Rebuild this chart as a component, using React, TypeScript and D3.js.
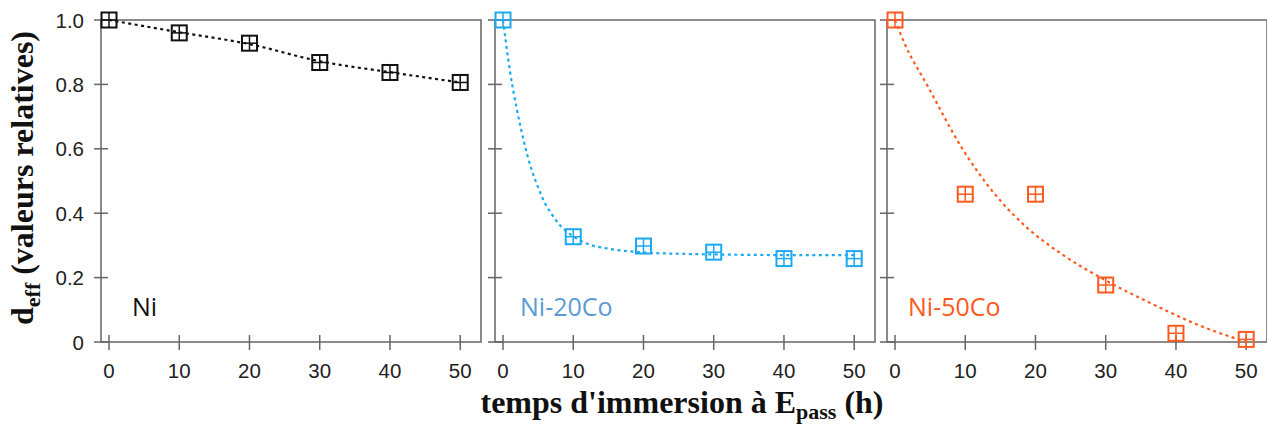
import React from "react";
import * as d3 from "d3";

const times = [0, 10, 20, 30, 40, 50];
const niValues = [1.0, 0.96, 0.928, 0.868, 0.837, 0.806];
const ni20Values = [1.0, 0.327, 0.298, 0.279, 0.259, 0.259];
const ni50Values = [1.0, 0.459, 0.459, 0.177, 0.027, 0.008];

// dotted fit curves
const niFitT = [0, 10, 20, 30, 40, 50];
const niFitV = [1.0, 0.962, 0.925, 0.872, 0.838, 0.806];
const ni20FitT = [0, 1, 2, 3, 4, 5, 6, 7, 8, 9, 10, 12, 15, 20, 25, 30, 40, 50];
const ni20FitV = [1.0, 0.84, 0.72, 0.62, 0.54, 0.48, 0.43, 0.395, 0.365, 0.345, 0.328, 0.305, 0.29, 0.278, 0.274, 0.272, 0.27, 0.27];
const ni50FitT = [0, 1.3, 4.7, 9.4, 14.1, 18.9, 23.6, 30.1, 37.9, 42.6, 50];
const ni50FitV = [1.0, 0.93, 0.793, 0.607, 0.462, 0.353, 0.275, 0.19, 0.105, 0.058, 0.0];

const xTicks = [0, 10, 20, 30, 40, 50];
const yTicks = [0, 0.2, 0.4, 0.6, 0.8, 1.0];
const yTickLabels = ["0", "0.2", "0.4", "0.6", "0.8", "1.0"];

const panelNames = ["Ni", "Ni-20Co", "Ni-50Co"];
const markerColors = ["#111111", "#1BA9F2", "#FF5A1E"];
const labelColors = ["#111111", "#5B9BD5", "#FF5A1E"];

const panels = [
  { name: panelNames[0], values: niValues, fitT: niFitT, fitV: niFitV, left: 101, labelDx: 31, marker: markerColors[0], label: labelColors[0] },
  { name: panelNames[1], values: ni20Values, fitT: ni20FitT, fitV: ni20FitV, left: 495, labelDx: 25, marker: markerColors[1], label: labelColors[1] },
  { name: panelNames[2], values: ni50Values, fitT: ni50FitT, fitV: ni50FitV, left: 887, labelDx: 21, marker: markerColors[2], label: labelColors[2] },
];

const W = 1267;
const H = 427;
const PW = 380;
const TOP = 20;
const BOTTOM = 342;
const frameColor = "#666666";

export default function App() {
  const y = d3.scaleLinear().domain([0, 1]).range([BOTTOM, TOP]);
  const ms = 7.5;
  return (
    <svg width={W} height={H} style={{ position: "absolute", left: 0, top: 0, background: "#fff" }}>
      {panels.map((p, pi) => {
        const x = d3.scaleLinear().domain([-1.14, 52.96]).range([p.left, p.left + PW]);
        const line = d3
          .line<number>()
          .x((_, i) => x(p.fitT[i]))
          .y((v) => y(v))
          .curve(d3.curveMonotoneX);
        return (
          <g key={pi}>
            <rect x={p.left} y={TOP} width={PW} height={BOTTOM - TOP} fill="#fff" stroke={frameColor} strokeWidth={1.5} />
            {yTicks.map((t, i) => (
              <line key={"yt" + i} x1={p.left - 7} x2={p.left + 7} y1={y(t)} y2={y(t)} stroke={frameColor} strokeWidth={1.5} />
            ))}
            {xTicks.map((t, i) => (
              <line key={"xt" + i} x1={x(t)} x2={x(t)} y1={BOTTOM - 7} y2={BOTTOM + 8} stroke={frameColor} strokeWidth={1.5} />
            ))}
            {xTicks.map((t, i) => (
              <text key={"xl" + i} x={x(t)} y={378} textAnchor="middle" fontFamily="Liberation Sans, Arial, sans-serif" fontSize={20.5} fill="#222">
                {t}
              </text>
            ))}
            {pi === 0 &&
              yTicks.map((t, i) => (
                <text key={"yl" + i} x={p.left - 17} y={y(t) + 7.5} textAnchor="end" fontFamily="Liberation Sans, Arial, sans-serif" fontSize={20.5} fill="#222">
                  {yTickLabels[i]}
                </text>
              ))}
            <path d={line(p.fitV) || ""} fill="none" stroke={p.marker} strokeWidth={2.2} strokeDasharray="3,3.5" />
            {times.map((t, i) => {
              const cx = x(t);
              const cy = y(p.values[i]);
              return (
                <g key={"m" + i}>
                  <rect x={cx - ms} y={cy - ms} width={ms * 2} height={ms * 2} fill="none" stroke={p.marker} strokeWidth={2} />
                  <line x1={cx - ms} x2={cx + ms} y1={cy} y2={cy} stroke={p.marker} strokeWidth={1.5} />
                  <line x1={cx} x2={cx} y1={cy - ms} y2={cy + ms} stroke={p.marker} strokeWidth={1.5} />
                </g>
              );
            })}
            <text x={p.left + p.labelDx} y={316} fontFamily="Open Sans, Noto Sans, sans-serif" fontSize={25} fill={p.label}>
              {p.name}
            </text>
          </g>
        );
      })}
      <text
        transform={`translate(33,178) rotate(-90)`}
        textAnchor="middle"
        fontFamily="Liberation Serif, Times New Roman, serif"
        fontWeight="bold"
        fontSize={32}
        fill="#111"
      >
        d<tspan fontSize={22} dy={7}>eff</tspan>
        <tspan dy={-7}> (valeurs relatives)</tspan>
      </text>
      <text x={682} y={413} textAnchor="middle" fontFamily="Liberation Serif, Times New Roman, serif" fontWeight="bold" fontSize={32} fill="#111">
        temps d'immersion à E<tspan fontSize={22} dy={6}>pass</tspan>
        <tspan dy={-6}> (h)</tspan>
      </text>
    </svg>
  );
}
